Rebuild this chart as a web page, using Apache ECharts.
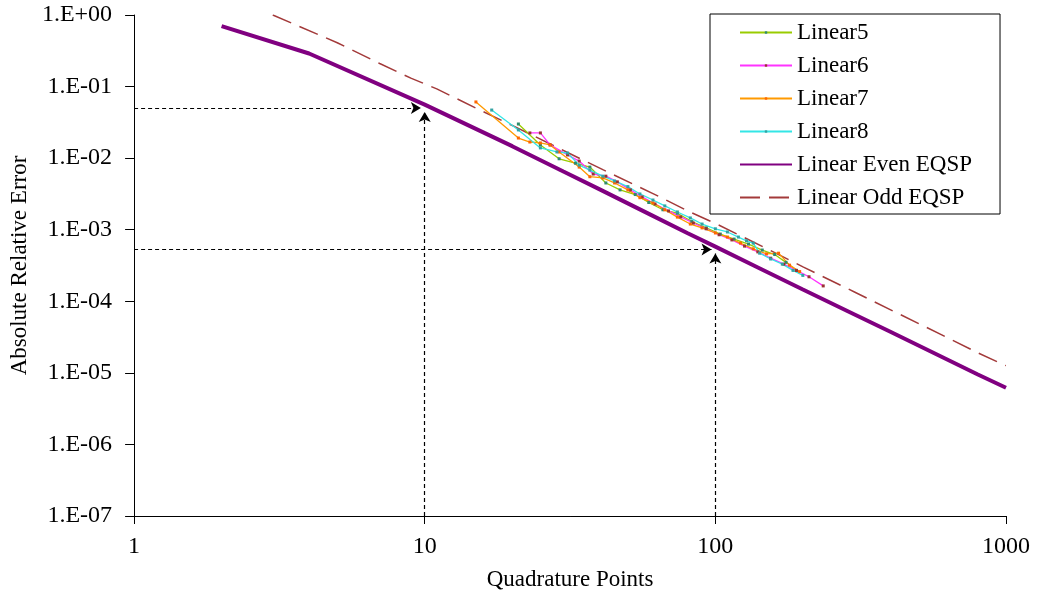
<!DOCTYPE html>
<html>
<head>
<meta charset="utf-8">
<script src="https://cdn.jsdelivr.net/npm/echarts@6/dist/echarts.min.js"></script>
<style>
  html, body { margin: 0; padding: 0; background: #fff; }
  #chart { width: 1037px; height: 599px; }
</style>
</head>
<body>
<div id="chart"></div>
<script>
// tick labels
const xTickLabels = { 1: '1', 10: '10', 100: '100', 1000: '1000' };
const yTickLabels = ['1.E+00', '1.E-01', '1.E-02', '1.E-03', '1.E-04', '1.E-05', '1.E-06', '1.E-07'];

// Linear5
const linear5N = [21, 25, 29, 33, 37, 42, 47, 53, 59, 66, 74, 83, 93, 104, 116, 130, 145, 160, 175, 190];
const linear5Err = [0.030, 0.0153, 0.0098, 0.0085, 0.0075, 0.0045, 0.0036, 0.0031, 0.0024, 0.0019, 0.0017, 0.0013,
  0.00106, 0.00087, 0.00074, 0.00063, 0.00052, 0.00045, 0.00035, 0.00027];

// Linear6
const linear6N = [23, 25, 27, 31, 34, 38, 42, 46, 51, 56, 62, 69, 76, 84, 93, 103, 114, 126, 140, 155, 172, 190, 210, 235];
const linear6Err = [0.0225, 0.0225, 0.0153, 0.0111, 0.0091, 0.0060, 0.0056, 0.00466, 0.0036, 0.00287, 0.00229, 0.00183,
  0.00151, 0.00124, 0.00103, 0.00085, 0.00072, 0.00059, 0.00049, 0.00040, 0.00033, 0.00027, 0.00022, 0.000164];

// Linear7
const linear7N = [15, 21, 23, 25, 27, 29, 34, 37, 41, 45, 50, 55, 61, 67, 74, 82, 90, 100, 110, 122, 135, 150, 165, 180, 195];
const linear7Err = [0.061, 0.0191, 0.0168, 0.0163, 0.0153, 0.0122, 0.0075, 0.0055, 0.0053, 0.0045, 0.0036, 0.0028,
  0.00237, 0.0019, 0.0015, 0.0012, 0.00106, 0.0009, 0.00079, 0.00065, 0.00054, 0.00046, 0.00047, 0.00032, 0.00026];

// Linear8
const linear8N = [17, 21, 25, 28.5, 31, 34, 37, 41, 45, 50, 55, 61, 67, 74, 82, 90, 100, 110, 120, 128, 135, 142, 155, 170, 185, 200];
const linear8Err = [0.047, 0.0248, 0.0139, 0.0122, 0.0118, 0.0080, 0.0068, 0.0056, 0.0048, 0.0040, 0.00316, 0.0026,
  0.00215, 0.00177, 0.00146, 0.0012, 0.00103, 0.00093, 0.00079, 0.0007, 0.00065, 0.00047, 0.00039, 0.00033, 0.00027, 0.00023];

// Linear Even EQSP
const evenN = [2, 4, 10, 20, 30, 40, 60, 80, 100, 140, 200, 300, 400, 600, 800, 1000];
const evenErr = [0.70, 0.29, 0.056, 0.0147, 0.0065, 0.00366, 0.00161, 0.0009, 0.00058,
  0.000297, 0.000146, 0.000066, 0.0000376, 0.0000168, 0.0000095, 0.0000062];

// Linear Odd EQSP
const oddN = [3, 5, 7, 9, 11, 15, 21, 31, 41, 61, 81, 101, 151, 201, 301, 401, 601, 801, 999];
const oddErr = [1.0, 0.41, 0.21, 0.13, 0.093, 0.050, 0.026, 0.012, 0.0069, 0.0032, 0.0018, 0.0012,
  0.00054, 0.00030, 0.000135, 0.000076, 0.000034, 0.000019, 0.0000126];

// annotation arrows (N, error)
const markA = [10, 0.05];
const markB = [100, 0.00053];

const pairs = (xs, ys) => xs.map((x, i) => [x, ys[i]]);

const font = "'Liberation Serif', 'Times New Roman', serif";

const chart = echarts.init(document.getElementById('chart'));

const linearSeries = (name, xs, ys, lineColor, dotColor) => ({
  name: name,
  type: 'line',
  data: pairs(xs, ys),
  symbol: 'rect',
  symbolSize: 3,
  showSymbol: true,
  lineStyle: { color: lineColor, width: 1.3 },
  itemStyle: { color: dotColor },
  color: lineColor,
  z: 3
});

const option = {
  animation: false,
  backgroundColor: '#fff',
  textStyle: { fontFamily: font, color: '#000' },
  grid: { left: 133, right: 31, top: 15, bottom: 83 },
  legend: {
    orient: 'vertical',
    left: 710,
    top: 14,
    padding: [7, 28, 5, 29],
    itemWidth: 52,
    itemHeight: 3,
    itemGap: 10,
    borderColor: '#000',
    borderWidth: 1,
    backgroundColor: '#fff',
    textStyle: { fontFamily: font, fontSize: 23, color: '#000', lineHeight: 23 },
    data: [
      'Linear5', 'Linear6', 'Linear7', 'Linear8',
      { name: 'Linear Even EQSP', itemStyle: { opacity: 0 } },
      { name: 'Linear Odd EQSP', itemStyle: { opacity: 0 } }
    ]
  },
  xAxis: {
    type: 'log',
    logBase: 10,
    min: 1,
    max: 1000,
    splitNumber: 3,
    name: 'Quadrature Points',
    nameLocation: 'middle',
    nameGap: 52,
    nameTextStyle: { fontFamily: font, fontSize: 23, color: '#000' },
    axisLine: { lineStyle: { color: '#000', width: 1 } },
    axisTick: { show: true, inside: false, length: 8, lineStyle: { color: '#000' } },
    minorTick: { show: false },
    splitLine: { show: false },
    axisLabel: {
      fontFamily: font, fontSize: 24, color: '#000', margin: 19,
      formatter: v => xTickLabels[Math.round(v)] || ''
    }
  },
  yAxis: {
    type: 'log',
    logBase: 10,
    min: 1e-7,
    max: 1,
    splitNumber: 7,
    name: 'Absolute Relative Error',
    nameLocation: 'middle',
    nameGap: 100,
    nameTextStyle: { fontFamily: font, fontSize: 23, color: '#000' },
    axisLine: { show: true, lineStyle: { color: '#000', width: 1 } },
    axisTick: { show: true, inside: false, length: 9, lineStyle: { color: '#000' } },
    splitLine: { show: false },
    axisLabel: {
      fontFamily: font, fontSize: 24, color: '#000', margin: 22,
      formatter: v => yTickLabels[Math.round(-Math.log10(v))] || ''
    }
  },
  series: [
    linearSeries('Linear5', linear5N, linear5Err, '#99CC00', '#2E8B6E'),
    linearSeries('Linear6', linear6N, linear6Err, '#FF33FF', '#993333'),
    linearSeries('Linear7', linear7N, linear7Err, '#FF9900', '#FF6600'),
    linearSeries('Linear8', linear8N, linear8Err, '#33E6E6', '#33A3A3'),
    {
      name: 'Linear Even EQSP',
      type: 'line',
      data: pairs(evenN, evenErr),
      symbol: 'none',
      color: '#800080',
      lineStyle: { color: '#800080', width: 4 },
      z: 2,
      markLine: {
        silent: true,
        symbol: ['none', 'arrow'],
        symbolSize: [9, 10],
        label: { show: false },
        lineStyle: { color: '#000', width: 1.2, type: [4, 3] },
        data: [
          [{ coord: [1, markA[1]] }, { coord: [markA[0] * 0.97, markA[1]] }],
          [{ coord: [markA[0], 1e-7] }, { coord: [markA[0], markA[1] * 0.88] }],
          [{ coord: [1, markB[1]] }, { coord: [markB[0] * 0.97, markB[1]] }],
          [{ coord: [markB[0], 1e-7] }, { coord: [markB[0], markB[1] * 0.88] }]
        ]
      }
    },
    {
      name: 'Linear Odd EQSP',
      type: 'line',
      data: pairs(oddN, oddErr),
      symbol: 'none',
      color: '#A33A3A',
      lineStyle: { color: '#A33A3A', width: 1.5, type: [20, 9] },
      z: 2
    }
  ]
};

chart.setOption(option);
</script>
</body>
</html>
